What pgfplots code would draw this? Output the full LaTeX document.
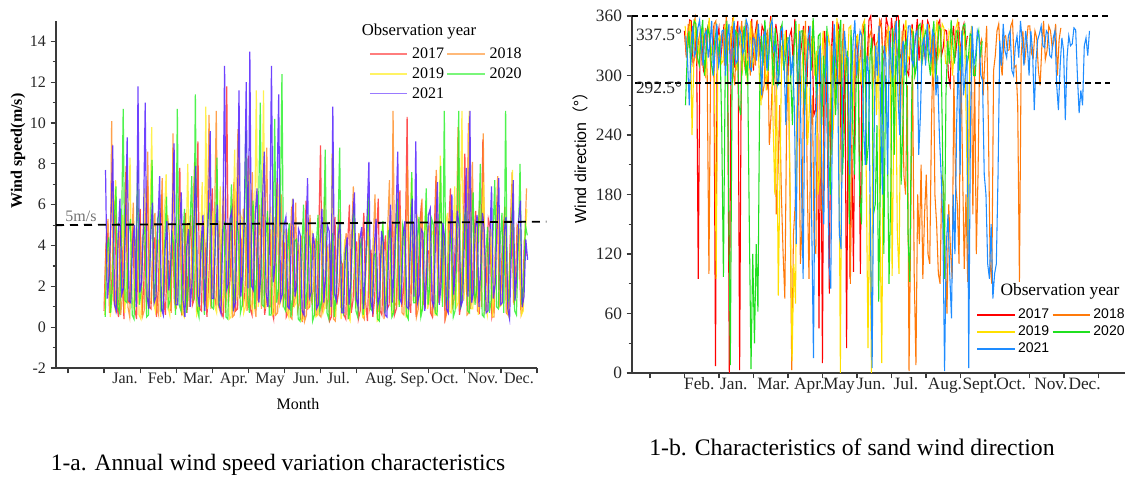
\documentclass[border=0pt]{standalone}
\usepackage{fontspec}
\setmainfont{Liberation Serif}
\newfontfamily\arialf{Liberation Sans}
\newfontfamily\cjk{Noto Sans CJK SC}
\usepackage{pgfplots}
\usepackage{pgfplotstable}
\pgfplotsset{compat=1.18}

\definecolor{lA}{HTML}{FF2626}
\definecolor{lB}{HTML}{FF8A1F}
\definecolor{lC}{HTML}{FFEE22}
\definecolor{lD}{HTML}{22F022}
\definecolor{lE}{HTML}{5522FF}
\definecolor{rA}{HTML}{FF0000}
\definecolor{rB}{HTML}{FF7A0A}
\definecolor{rC}{HTML}{FFE000}
\definecolor{rD}{HTML}{20E020}
\definecolor{rE}{HTML}{1E8CFF}
\definecolor{axc}{HTML}{3A3A3A}

% ---------- wind speed (m/s), about one value every 1.5 days ----------
\pgfplotstableread[row sep=\\]{y\\
0.8\\3.9\\4.6\\0.7\\1.5\\4.2\\6.2\\1.1\\0.5\\5.0\\3.8\\0.4\\7.6\\1.3\\1.2\\3.1\\4.9\\0.9\\0.4\\4.4\\
5.8\\0.6\\2.1\\5.3\\7.2\\1.0\\0.9\\3.6\\4.4\\0.5\\1.8\\4.8\\6.5\\1.4\\0.6\\3.3\\3.2\\0.8\\5.1\\1.2\\
1.0\\4.5\\7.8\\0.6\\2.4\\5.6\\0.7\\3.8\\5.5\\1.1\\1.4\\4.1\\9.1\\0.9\\0.8\\5.2\\4.0\\0.5\\2.2\\4.7\\
6.8\\1.5\\1.1\\4.0\\5.2\\0.7\\0.5\\3.9\\11.8\\1.2\\2.6\\5.4\\7.1\\0.8\\0.9\\4.6\\4.3\\1.0\\1.6\\3.7\\
8.4\\0.9\\0.6\\4.3\\5.0\\1.3\\2.0\\5.1\\6.6\\0.6\\1.3\\3.5\\4.8\\0.8\\0.4\\4.9\\7.3\\1.1\\1.9\\4.2\\
4.1\\0.5\\0.7\\3.4\\5.9\\1.0\\1.5\\4.0\\3.6\\0.4\\0.3\\3.1\\6.2\\0.9\\1.0\\3.8\\4.4\\0.6\\0.6\\4.5\\
8.9\\0.8\\1.2\\3.6\\3.9\\0.3\\0.5\\4.2\\5.4\\1.1\\1.7\\3.3\\3.1\\0.6\\0.4\\4.0\\6.0\\0.7\\1.3\\3.5\\
4.2\\0.4\\0.8\\3.9\\5.6\\1.2\\0.3\\3.2\\3.8\\0.5\\1.4\\4.4\\6.3\\0.8\\0.6\\3.6\\4.5\\0.9\\1.1\\4.1\\
5.2\\0.6\\0.9\\4.3\\6.7\\1.0\\1.8\\3.9\\10.3\\1.3\\0.7\\4.7\\4.6\\0.5\\2.0\\5.0\\6.1\\1.2\\1.0\\3.8\\
3.7\\0.7\\0.5\\4.5\\7.4\\1.4\\1.6\\3.6\\5.0\\0.4\\0.8\\4.8\\6.8\\1.1\\2.3\\5.2\\4.1\\0.6\\1.2\\3.9\\
8.5\\1.6\\10.0\\0.9\\1.5\\4.4\\5.7\\0.8\\0.7\\3.7\\9.2\\1.3\\2.4\\5.3\\4.9\\0.5\\0.9\\4.2\\6.4\\1.0\\
1.8\\4.6\\5.3\\0.7\\0.6\\3.8\\7.0\\1.2\\2.2\\5.0\\4.8\\0.9\\1.0\\4.3\\3.5\\
}\LA
\pgfplotstableread[row sep=\\]{y\\
1.2\\4.4\\5.3\\0.8\\10.1\\1.4\\0.9\\3.7\\4.7\\0.6\\1.6\\5.1\\7.9\\1.0\\0.5\\3.9\\6.1\\1.3\\2.0\\4.6\\
4.2\\0.5\\0.8\\3.5\\8.6\\1.1\\1.3\\4.8\\5.6\\0.9\\0.6\\4.1\\7.3\\1.5\\2.4\\5.5\\4.5\\0.7\\9.5\\1.2\\
1.1\\3.8\\6.2\\0.6\\0.7\\4.3\\5.0\\1.0\\2.5\\5.7\\8.1\\0.8\\0.9\\3.6\\4.6\\1.3\\1.7\\4.9\\10.4\\0.9\\
2.3\\5.0\\10.6\\1.1\\0.8\\4.2\\6.9\\0.7\\1.9\\3.9\\5.2\\0.5\\0.6\\4.6\\9.7\\1.4\\2.8\\5.8\\4.9\\0.8\\
1.4\\4.0\\7.6\\1.2\\0.5\\3.7\\6.0\\0.9\\2.7\\5.3\\8.8\\1.0\\1.0\\4.4\\5.4\\0.6\\0.7\\3.5\\6.5\\1.2\\
1.6\\3.9\\4.8\\0.5\\0.4\\3.4\\6.1\\0.8\\1.2\\4.5\\3.7\\0.3\\0.6\\3.8\\5.5\\1.1\\2.0\\4.3\\4.2\\0.6\\
0.5\\3.6\\6.4\\0.9\\1.4\\4.1\\3.5\\0.4\\0.3\\3.2\\5.8\\1.0\\1.1\\3.7\\4.6\\0.5\\0.7\\4.4\\6.9\\1.3\\
1.8\\4.6\\4.0\\0.6\\0.4\\3.3\\5.3\\0.9\\1.3\\4.2\\6.5\\0.7\\0.8\\3.5\\3.9\\0.4\\1.5\\4.8\\7.2\\1.0\\
10.6\\1.2\\1.0\\4.0\\5.8\\0.7\\0.6\\3.9\\7.9\\1.3\\2.1\\5.1\\4.4\\0.5\\0.9\\4.3\\6.3\\1.1\\1.7\\4.7\\
5.0\\0.8\\0.6\\3.7\\7.7\\1.2\\1.9\\4.9\\4.6\\0.4\\0.8\\4.5\\6.0\\1.0\\1.4\\3.8\\9.8\\0.9\\2.3\\5.2\\
5.5\\0.6\\0.7\\4.1\\8.1\\1.3\\1.5\\4.4\\6.2\\1.0\\9.5\\0.8\\1.1\\3.9\\4.7\\0.5\\0.5\\4.6\\7.4\\1.4\\
2.0\\4.8\\5.9\\0.7\\0.8\\3.6\\7.6\\1.1\\1.6\\5.0\\4.4\\0.6\\0.9\\4.2\\6.8\\
}\LB
\pgfplotstableread[row sep=\\]{y\\
0.6\\3.5\\3.9\\0.5\\1.4\\4.7\\7.2\\1.1\\0.9\\3.8\\5.5\\0.7\\2.1\\5.0\\8.3\\1.3\\1.0\\4.2\\4.6\\0.6\\
0.4\\3.9\\6.8\\0.9\\1.7\\4.5\\9.8\\1.2\\0.8\\3.6\\4.3\\0.5\\2.2\\5.4\\7.5\\1.0\\0.6\\4.1\\5.1\\0.8\\
1.3\\4.4\\6.4\\0.7\\0.5\\3.7\\8.0\\1.4\\2.0\\5.2\\4.8\\0.6\\0.9\\4.0\\7.1\\1.1\\10.8\\0.9\\1.5\\4.6\\
5.7\\1.0\\0.7\\3.9\\6.9\\0.8\\1.8\\4.8\\4.0\\0.4\\0.5\\4.3\\8.7\\1.3\\2.3\\5.6\\5.3\\0.7\\1.0\\4.1\\
7.8\\1.2\\0.8\\4.4\\11.6\\1.0\\1.6\\5.0\\11.6\\0.9\\2.5\\5.3\\5.9\\0.6\\0.7\\3.8\\7.0\\1.1\\1.4\\4.5\\
4.7\\0.8\\0.5\\3.6\\6.3\\1.0\\1.2\\4.2\\3.9\\0.3\\0.4\\3.4\\5.6\\0.9\\1.8\\4.6\\4.1\\0.5\\0.6\\3.9\\
5.2\\0.7\\1.0\\4.0\\3.6\\0.6\\8.5\\1.2\\0.5\\3.5\\4.9\\0.4\\1.3\\4.3\\3.4\\0.5\\0.3\\3.7\\5.7\\0.9\\
1.5\\4.1\\4.3\\0.5\\0.6\\3.9\\6.2\\1.0\\1.1\\4.4\\3.8\\0.3\\0.4\\3.6\\5.0\\0.8\\2.0\\4.9\\4.5\\0.6\\
0.8\\4.0\\6.6\\1.1\\1.6\\4.7\\4.2\\0.5\\0.5\\3.8\\7.3\\1.3\\2.1\\5.5\\5.1\\0.7\\0.9\\4.2\\6.0\\0.9\\
1.4\\4.5\\4.7\\0.6\\0.6\\3.9\\8.4\\1.2\\2.2\\5.1\\5.6\\0.8\\0.7\\4.3\\6.9\\1.0\\1.2\\4.8\\10.6\\1.3\\
2.5\\5.4\\10.6\\0.9\\0.9\\4.0\\5.4\\0.6\\1.7\\4.6\\7.1\\1.1\\0.6\\3.7\\4.8\\0.5\\2.3\\5.2\\6.7\\1.0\\
1.1\\4.3\\5.2\\0.7\\0.5\\3.8\\7.7\\1.2\\1.9\\4.9\\4.1\\0.6\\0.8\\4.4\\5.8\\
}\LC
\pgfplotstableread[row sep=\\]{y\\
0.5\\3.8\\4.4\\0.7\\2.0\\5.1\\6.9\\1.0\\0.7\\4.2\\10.7\\1.3\\1.2\\4.6\\5.3\\0.6\\0.4\\3.7\\7.7\\1.1\\
1.8\\4.5\\4.9\\0.5\\0.6\\3.9\\8.2\\1.2\\2.4\\5.3\\5.6\\0.8\\0.9\\4.1\\6.4\\1.0\\1.3\\4.7\\4.0\\0.6\\
10.7\\1.1\\0.8\\4.3\\5.8\\0.7\\1.9\\4.9\\7.4\\1.3\\11.4\\0.9\\0.5\\3.6\\4.7\\0.6\\2.2\\5.5\\6.1\\1.0\\
0.9\\4.0\\8.3\\1.2\\1.6\\4.6\\5.0\\0.5\\0.4\\3.8\\7.0\\0.8\\2.0\\5.2\\4.5\\0.7\\1.1\\4.4\\9.6\\1.4\\
0.7\\4.1\\6.2\\0.9\\2.6\\5.6\\11.0\\1.1\\1.0\\4.3\\5.7\\0.6\\0.6\\3.9\\10.2\\1.2\\1.8\\4.8\\12.4\\1.0\\
0.8\\3.7\\5.1\\0.5\\1.4\\4.2\\4.3\\0.4\\0.3\\3.5\\6.0\\0.9\\1.9\\4.5\\3.7\\0.3\\0.6\\3.9\\5.5\\0.8\\
1.2\\4.0\\8.7\\0.7\\0.4\\3.4\\4.6\\0.5\\1.6\\4.3\\8.8\\1.0\\0.7\\3.6\\3.9\\0.4\\1.1\\4.6\\5.9\\0.8\\
0.5\\3.8\\4.2\\0.6\\1.7\\4.4\\6.4\\0.9\\0.8\\3.5\\3.6\\0.4\\0.3\\3.9\\5.2\\0.7\\1.4\\4.7\\4.8\\0.5\\
0.7\\4.2\\6.3\\1.0\\1.9\\5.0\\4.5\\0.6\\0.4\\3.7\\7.6\\1.2\\1.2\\4.4\\5.4\\0.5\\0.9\\4.1\\6.8\\1.1\\
2.1\\5.3\\5.0\\0.7\\0.6\\3.9\\7.9\\1.0\\10.6\\1.2\\1.5\\4.6\\4.3\\0.5\\0.8\\4.0\\10.6\\0.9\\2.0\\5.1\\
5.9\\0.8\\0.7\\4.3\\6.6\\1.1\\1.8\\4.8\\8.0\\0.6\\0.5\\3.6\\4.9\\0.7\\1.3\\4.5\\7.2\\1.0\\0.9\\4.2\\
5.6\\0.7\\10.6\\1.2\\1.4\\4.7\\6.1\\0.8\\0.6\\3.9\\8.0\\1.1\\2.0\\5.0\\4.5\\
}\LD
\pgfplotstableread[row sep=\\]{y\\
7.7\\1.4\\2.5\\5.2\\8.9\\1.1\\0.8\\4.4\\6.3\\1.6\\1.9\\4.8\\9.3\\1.3\\1.2\\4.1\\5.0\\1.0\\11.8\\1.7\\
2.2\\4.9\\11.0\\1.5\\0.9\\4.3\\6.1\\1.2\\1.5\\5.0\\7.4\\0.9\\0.6\\3.8\\5.2\\1.8\\2.7\\5.4\\9.0\\1.1\\
1.1\\4.6\\6.6\\1.3\\0.5\\3.9\\4.8\\1.0\\2.3\\5.1\\7.9\\1.6\\1.0\\4.2\\5.5\\0.8\\3.0\\5.6\\9.6\\1.4\\
1.4\\4.7\\6.0\\1.1\\0.7\\4.5\\12.8\\1.8\\2.1\\5.3\\5.7\\0.9\\1.2\\4.9\\11.6\\1.5\\2.6\\5.8\\12.0\\1.9\\
13.5\\2.0\\1.8\\5.5\\6.8\\1.2\\2.4\\6.1\\8.6\\1.7\\1.0\\4.6\\12.8\\2.2\\3.1\\6.4\\11.4\\1.3\\1.6\\5.0\\
5.4\\1.0\\0.9\\4.4\\6.3\\1.5\\2.0\\4.8\\4.5\\0.8\\0.6\\3.9\\7.3\\1.4\\1.7\\4.6\\4.0\\0.9\\1.1\\4.2\\
5.8\\1.2\\2.4\\5.0\\4.7\\1.0\\10.8\\1.6\\1.3\\4.5\\5.1\\0.7\\0.7\\3.8\\4.4\\1.1\\2.2\\5.2\\6.6\\1.4\\
1.0\\4.3\\4.9\\0.9\\2.6\\5.4\\8.1\\1.3\\0.8\\4.0\\5.3\\1.1\\1.5\\4.7\\4.1\\0.6\\0.5\\3.9\\6.0\\1.2\\
2.8\\5.3\\8.6\\1.4\\1.2\\4.5\\5.2\\1.0\\0.9\\4.1\\6.3\\1.5\\9.1\\1.2\\1.6\\4.8\\4.6\\0.8\\2.5\\5.5\\
5.8\\1.3\\1.0\\4.6\\7.1\\1.1\\2.0\\5.1\\4.4\\0.9\\0.7\\4.0\\6.5\\1.6\\3.0\\5.7\\5.0\\1.0\\1.3\\4.4\\
7.8\\1.5\\10.6\\1.2\\1.7\\4.9\\5.5\\1.0\\2.9\\5.6\\4.7\\0.7\\0.8\\4.2\\6.9\\1.4\\2.1\\5.0\\7.3\\1.1\\
1.2\\4.6\\5.4\\0.9\\0.4\\3.8\\7.2\\1.3\\2.6\\5.2\\6.2\\1.0\\1.5\\4.3\\3.3\\
}\LE

% ---------- sand wind direction (degrees) ----------
\pgfplotstableread[row sep=\\]{y\\
345\\322\\330\\356\\355\\312\\318\\348\\95\\330\\340\\305\\300\\345\\352\\318\\325\\350\\7\\338\\
348\\315\\335\\352\\310\\340\\0\\326\\358\\308\\342\\355\\3\\332\\320\\346\\350\\312\\336\\357\\
305\\342\\355\\318\\328\\350\\345\\300\\290\\336\\360\\325\\315\\352\\338\\308\\350\\330\\322\\346\\
300\\340\\346\\315\\357\\328\\270\\318\\332\\350\\312\\288\\350\\322\\340\\260\\265\\310\\45\\300\\
10\\345\\330\\220\\80\\315\\355\\280\\300\\352\\346\\190\\248\\335\\25\\300\\95\\230\\102\\326\\
335\\290\\100\\340\\350\\312\\318\\356\\360\\330\\342\\308\\310\\348\\355\\322\\326\\358\\350\\316\\
358\\340\\335\\360\\360\\318\\322\\350\\345\\305\\300\\336\\352\\324\\338\\357\\315\\342\\356\\320\\
330\\355\\350\\312\\342\\338\\310\\352\\356\\320\\328\\346\\345\\300\\290\\335\\350\\318\\335\\354\\
318\\345\\352\\326\\340\\
}\RA
\pgfplotstableread[row sep=\\]{y\\
340\\318\\352\\330\\325\\350\\358\\312\\336\\345\\310\\328\\348\\300\\100\\320\\330\\352\\355\\315\\
318\\340\\342\\310\\360\\335\\328\\350\\305\\290\\350\\326\\335\\355\\322\\305\\346\\330\\300\\348\\
338\\310\\356\\332\\315\\280\\290\\340\\345\\230\\260\\310\\325\\160\\200\\270\\180\\120\\75\\250\\
310\\180\\3\\140\\170\\260\\300\\110\\150\\320\\355\\190\\95\\240\\280\\130\\120\\300\\330\\170\\
160\\280\\345\\210\\250\\330\\310\\270\\330\\345\\290\\315\\352\\300\\318\\200\\90\\260\\300\\338\\
340\\305\\325\\350\\355\\318\\310\\340\\345\\290\\300\\332\\335\\356\\350\\312\\320\\345\\342\\300\\
305\\340\\355\\320\\330\\250\\345\\200\\180\\290\\2\\150\\320\\100\\8\\180\\130\\210\\95\\160\\
200\\120\\110\\250\\340\\180\\150\\100\\90\\200\\190\\115\\60\\170\\125\\95\\300\\190\\170\\110\\
330\\210\\105\\180\\92\\290\\345\\160\\310\\120\\200\\330\\336\\280\\318\\350\\250\\110\\90\\305\\
320\\345\\352\\315\\300\\338\\340\\325\\326\\350\\355\\308\\310\\270\\92\\320\\345\\312\\330\\350\\
350\\322\\318\\345\\338\\305\\290\\330\\355\\316\\325\\350\\345\\328\\335\\352\\300\\336\\348\\
}\RB
\pgfplotstableread[row sep=\\]{y\\
350\\326\\338\\355\\240\\310\\356\\330\\322\\348\\345\\310\\300\\340\\358\\322\\330\\300\\95\\335\\
340\\312\\315\\350\\352\\326\\328\\345\\360\\318\\305\\338\\346\\300\\335\\356\\290\\325\\355\\308\\
320\\342\\348\\300\\270\\330\\340\\285\\310\\350\\356\\250\\180\\300\\78\\200\\330\\310\\345\\290\\
300\\160\\12\\110\\70\\300\\352\\270\\318\\345\\340\\230\\265\\320\\355\\300\\325\\180\\200\\310\\
345\\290\\310\\340\\330\\220\\250\\312\\358\\280\\0\\310\\336\\300\\300\\348\\350\\240\\322\\330\\
342\\310\\290\\350\\355\\200\\25\\180\\0\\300\\330\\260\\345\\150\\10\\280\\315\\330\\350\\300\\
98\\260\\335\\140\\100\\290\\300\\345\\356\\315\\320\\348\\345\\300\\310\\336\\338\\310\\352\\325\\
318\\350\\344\\305\\300\\338\\356\\320\\330\\352\\348\\312\\312\\345\\340\\300\\325\\348\\355\\330\\
305\\345\\340\\250\\130\\320\\350\\
}\RC
\pgfplotstableread[row sep=\\]{y\\
270\\320\\345\\310\\330\\355\\352\\318\\310\\340\\356\\300\\325\\348\\340\\312\\300\\336\\348\\320\\
335\\250\\97\\300\\355\\180\\8\\290\\320\\345\\342\\270\\260\\330\\350\\300\\315\\150\\4\\120\\
30\\130\\62\\280\\340\\310\\356\\330\\305\\348\\330\\290\\348\\320\\290\\345\\352\\305\\318\\338\\
338\\300\\250\\330\\355\\290\\310\\345\\345\\260\\300\\335\\330\\305\\358\\320\\275\\340\\342\\250\\
320\\290\\350\\220\\180\\300\\336\\260\\305\\340\\356\\200\\240\\310\\325\\150\\346\\250\\200\\300\\
315\\180\\150\\280\\352\\210\\230\\320\\338\\160\\170\\250\\72\\200\\330\\120\\300\\240\\90\\180\\
348\\220\\320\\300\\356\\190\\250\\330\\335\\140\\92\\260\\345\\300\\310\\350\\352\\310\\328\\345\\
340\\315\\300\\338\\355\\290\\322\\350\\346\\230\\95\\280\\335\\312\\356\\330\\312\\345\\345\\305\\
330\\350\\352\\310\\318\\342\\340\\300\\300\\336\\345\\318\\335\\
}\RD
\pgfplotstableread[row sep=\\]{y\\
340\\315\\270\\330\\350\\320\\325\\348\\356\\330\\310\\342\\345\\318\\332\\355\\300\\325\\352\\310\\
320\\345\\346\\300\\338\\352\\290\\330\\355\\312\\315\\348\\342\\322\\328\\356\\350\\308\\305\\338\\
336\\315\\352\\328\\280\\340\\345\\305\\318\\350\\356\\325\\330\\290\\300\\345\\348\\310\\250\\330\\
338\\300\\320\\260\\130\\310\\345\\200\\95\\280\\310\\340\\350\\150\\15\\240\\280\\320\\330\\180\\
150\\300\\340\\110\\85\\260\\352\\310\\305\\140\\125\\290\\345\\320\\318\\200\\290\\335\\356\\300\\
325\\345\\340\\250\\210\\320\\300\\150\\5\\220\\330\\300\\350\\260\\180\\330\\316\\200\\345\\310\\
300\\340\\355\\280\\240\\320\\335\\300\\320\\350\\350\\315\\310\\340\\345\\220\\260\\330\\338\\310\\
352\\325\\315\\345\\340\\280\\300\\240\\200\\150\\2\\130\\160\\100\\55\\180\\120\\250\\330\\200\\
345\\280\\300\\320\\5\\250\\350\\310\\320\\345\\338\\300\\295\\200\\180\\110\\95\\150\\75\\100\\
110\\200\\335\\310\\352\\325\\318\\340\\345\\305\\300\\330\\340\\318\\355\\335\\310\\345\\330\\300\\
345\\325\\265\\315\\336\\342\\350\\330\\328\\345\\342\\320\\318\\338\\345\\290\\265\\310\\338\\325\\
255\\318\\340\\330\\332\\348\\346\\300\\262\\285\\270\\330\\338\\320\\345\\
}\RE

\pgfplotsset{
  panel/.style={
    scale only axis,
    axis x line*=bottom, axis y line*=left,
    tick align=outside,
    axis line style={line width=0.9pt, axc},
    every tick/.style={line width=0.9pt, axc},
    major tick length=4pt, minor tick length=2.5pt,
    clip=false,
    /pgf/number format/assume math mode=true,
    xtick={0,...,13}, xticklabels={},
    extra x tick style={major tick length=0pt},
    legend columns=2,
    legend cell align=left,
    legend image code/.code={\draw[##1,line width=1.2pt] (0pt,0pt) -- (28pt,0pt);},
  }
}

\begin{document}
\begin{tikzpicture}
\path[use as bounding box] (0,0) rectangle (846pt,357.75pt);

% ================= 1-a =================
\begin{axis}[panel,
  at={(42pt,81.75pt)}, anchor=south west,
  width=360.75pt, height=260.25pt,
  xmin=-0.333, xmax=13, ymin=-2, ymax=15,
  ytick={-2,0,...,14}, minor y tick num=1,
  extra x ticks={1.58,2.6,3.6,4.6,5.6,6.6,7.5,8.67,9.6,10.45,11.5,12.5},
  extra x tick labels={Jan.,Feb.,Mar.,Apr.,May,Jun.,Jul.,Aug.,Sep.,Oct.,Nov.,Dec.},
  ticklabel style={font=\fontsize{12}{14}\selectfont, text=black!85},
  legend style={at={(0.642,0.94)}, anchor=north west, draw=none, fill=none,
    font=\fontsize{12}{14}\selectfont, row sep=1.5pt,
    /tikz/every odd column/.append style={column sep=1pt}},
]
\addplot[lA, line width=0.9pt, draw opacity=0.8, forget plot] table[x expr=\coordindex*0.05+1.00, y=y] {\LA};
\addplot[lB, line width=0.9pt, draw opacity=0.8, forget plot] table[x expr=\coordindex*0.05+1.01, y=y] {\LB};
\addplot[lC, line width=0.9pt, draw opacity=0.8, forget plot] table[x expr=\coordindex*0.05+1.02, y=y] {\LC};
\addplot[lD, line width=0.9pt, draw opacity=0.8, forget plot] table[x expr=\coordindex*0.05+1.03, y=y] {\LD};
\addplot[lE, line width=0.9pt, draw opacity=0.85, forget plot] table[x expr=\coordindex*0.05+1.04, y=y] {\LE};
\addlegendimage{lA!60!white}\addlegendentry{2017}
\addlegendimage{lB!60!white}\addlegendentry{2018}
\addlegendimage{lC!70!white}\addlegendentry{2019}
\addlegendimage{lD!60!white}\addlegendentry{2020}
\addlegendimage{lE!60!white}\addlegendentry{2021}
\draw[black, line width=1.4pt, dash pattern=on 6pt off 4.5pt] (axis cs:-0.333,5) -- (axis cs:13.26,5.17);
\node[text=black!55, font=\fontsize{12}{14}\selectfont] at (axis cs:0.36,5.42) {5m/s};
\end{axis}

% ================= 1-b =================
\begin{axis}[panel,
  at={(474pt,78pt)}, anchor=south west,
  width=369.75pt, height=267.75pt,
  xmin=-0.52, xmax=13.77, ymin=0, ymax=360,
  ytick={0,60,...,360}, minor y tick num=1,
  extra x ticks={1.43,2.43,3.58,4.62,5.48,6.42,7.42,8.55,9.57,10.47,11.62,12.6},
  extra x tick labels={Feb.,Jan.,Mar.,Apr.,May,Jun.,Jul.,Aug.,Sept.,Oct.,Nov.,Dec.},
  ticklabel style={font=\fontsize{13}{15}\selectfont, text=black!85},
  legend style={at={(0.69,0.195)}, anchor=north west, draw=none, fill=none,
    font=\arialf\fontsize{10.5}{12}\selectfont, row sep=0pt,
    /tikz/every odd column/.append style={column sep=0pt}},
  every axis plot/.append style={line width=0.8pt},
]
\addplot[rA] table[x expr=\coordindex*0.05+1.00, y=y] {\RA};
\addplot[rB] table[x expr=\coordindex*0.05+1.01, y=y] {\RB};
\addplot[rC] table[x expr=\coordindex*0.05+1.02, y=y] {\RC};
\addplot[rD] table[x expr=\coordindex*0.05+1.03, y=y] {\RD};
\addplot[rE] table[x expr=\coordindex*0.05+1.04, y=y] {\RE};
\legend{2017,2018,2019,2020,2021}
\draw[black, line width=0.9pt, dash pattern=on 4.5pt off 3pt] (axis cs:-0.52,360) -- (axis cs:13.33,360);
\draw[black, line width=0.9pt, dash pattern=on 4.5pt off 3pt] (axis cs:-0.42,292.5) -- (axis cs:13.33,292.5);
\node[anchor=west, inner sep=0pt, font=\fontsize{13}{15}\selectfont, text=black!85] at (axis cs:-0.41,340.8) {337.5°};
\node[anchor=west, inner sep=0pt, font=\fontsize{13}{15}\selectfont, text=black!85] at (axis cs:-0.41,287.4) {292.5°};
\end{axis}

% ---------- free texts ----------
\node[rotate=90, font=\bfseries\fontsize{12}{14}\selectfont] at (13.5pt,244.5pt) {Wind speed(m/s)};
\node[font=\fontsize{12}{14}\selectfont] at (223.5pt,54.75pt) {Month};
\node[font=\fontsize{12.5}{14}\selectfont] at (314.25pt,333.75pt) {Observation year};
\node[rotate=90, font=\arialf\fontsize{12}{14}\selectfont] at (435pt,242.25pt) {Wind direction{\cjk （°）}};
\node[font=\fontsize{13}{15}\selectfont] at (795pt,139.5pt) {Observation year};
\node[font=\fontsize{17.6}{20}\selectfont] at (208.5pt,9pt) {1-a. Annual wind speed variation characteristics};
\node[font=\fontsize{17.8}{20}\selectfont] at (639pt,22.5pt) {1-b. Characteristics of sand wind direction};
\end{tikzpicture}
\end{document}
